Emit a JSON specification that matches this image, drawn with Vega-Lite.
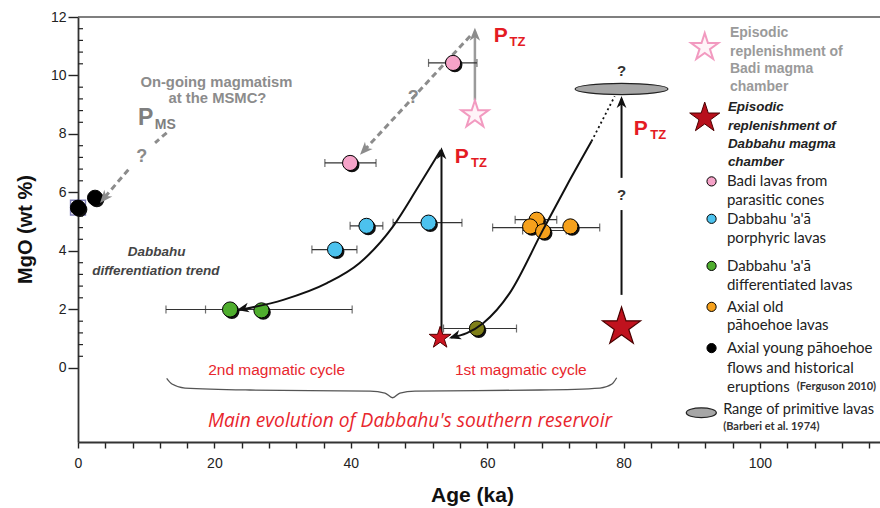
{
 "$schema": "https://vega.github.io/schema/vega-lite/v6.json",
 "width": 802, "height": 425,
 "autosize": {"type": "none"},
 "padding": {"left": 78, "top": 17, "right": 0, "bottom": 66},
 "background": "white",
 "config": {"view": {"stroke": null}, "axis": {"grid": false, "labelFont": "Liberation Sans", "titleFont": "Liberation Sans"}},
 "datasets": {
  "pts": [
   {"x": 0, "y": 5.48, "g": "black"},
   {"x": 2.5, "y": 5.82, "g": "black"},
   {"x": 39.9, "y": 7.01, "g": "pink"},
   {"x": 55.0, "y": 10.43, "g": "pink"},
   {"x": 42.3, "y": 4.86, "g": "blue"},
   {"x": 51.4, "y": 4.97, "g": "blue"},
   {"x": 37.7, "y": 4.05, "g": "blue"},
   {"x": 22.3, "y": 2.0, "g": "green"},
   {"x": 26.9, "y": 1.97, "g": "green"},
   {"x": 58.5, "y": 1.35, "g": "olive"},
   {"x": 67.25, "y": 5.07, "g": "orange"},
   {"x": 66.3, "y": 4.84, "g": "orange"},
   {"x": 72.2, "y": 4.84, "g": "orange"},
   {"x": 68.2, "y": 4.67, "g": "orange"}
  ],
  "err": [
   {"y": 7.01, "xlo": 36.2, "xhi": 43.7},
   {"y": 10.43, "xlo": 51.4, "xhi": 58.5},
   {"y": 4.86, "xlo": 39.9, "xhi": 44.7},
   {"y": 4.97, "xlo": 46.2, "xhi": 56.3},
   {"y": 4.05, "xlo": 34.3, "xhi": 40.9},
   {"y": 2.0, "xlo": 12.9, "xhi": 40.2},
   {"y": 2.0, "xlo": 18.7, "xhi": 26.9},
   {"y": 1.35, "xlo": 53.6, "xhi": 64.3},
   {"y": 4.80, "xlo": 60.8, "xhi": 76.5},
   {"y": 5.07, "xlo": 64.1, "xhi": 70.2},
   {"y": 4.70, "xlo": 65.2, "xhi": 71.6}
  ],
  "ymin": [
   {"x": 0, "y": 0.4}, {"x": 0, "y": 0.8}, {"x": 0, "y": 1.2}, {"x": 0, "y": 1.6},
   {"x": 0, "y": 2.4}, {"x": 0, "y": 2.8}, {"x": 0, "y": 3.2}, {"x": 0, "y": 3.6},
   {"x": 0, "y": 4.4}, {"x": 0, "y": 4.8}, {"x": 0, "y": 5.2}, {"x": 0, "y": 5.6},
   {"x": 0, "y": 6.4}, {"x": 0, "y": 6.8}, {"x": 0, "y": 7.2}, {"x": 0, "y": 7.6},
   {"x": 0, "y": 8.4}, {"x": 0, "y": 8.8}, {"x": 0, "y": 9.2}, {"x": 0, "y": 9.6},
   {"x": 0, "y": 10.4}, {"x": 0, "y": 10.8}, {"x": 0, "y": 11.2}, {"x": 0, "y": 11.6}
  ],
  "lines": [
   {"id": "c2", "k": "curve", "i": 1, "x": 23.6, "y": 1.98},
   {"id": "c2", "k": "curve", "i": 2, "x": 30.1, "y": 2.33},
   {"id": "c2", "k": "curve", "i": 3, "x": 36.5, "y": 2.90},
   {"id": "c2", "k": "curve", "i": 4, "x": 41.3, "y": 3.59},
   {"id": "c2", "k": "curve", "i": 5, "x": 46.2, "y": 4.84},
   {"id": "c2", "k": "curve", "i": 6, "x": 49.8, "y": 6.16},
   {"id": "c2", "k": "curve", "i": 7, "x": 53.2, "y": 7.45},
   {"id": "c1", "k": "curve", "i": 1, "x": 54.7, "y": 1.04},
   {"id": "c1", "k": "curve", "i": 2, "x": 57.0, "y": 1.19},
   {"id": "c1", "k": "curve", "i": 3, "x": 59.4, "y": 1.53},
   {"id": "c1", "k": "curve", "i": 4, "x": 63.3, "y": 2.56},
   {"id": "c1", "k": "curve", "i": 5, "x": 68.2, "y": 4.73},
   {"id": "c1", "k": "curve", "i": 6, "x": 71.7, "y": 6.25},
   {"id": "c1", "k": "curve", "i": 7, "x": 75.3, "y": 7.75},
   {"id": "c2v", "k": "straight", "i": 1, "x": 53.3, "y": 1.1},
   {"id": "c2v", "k": "straight", "i": 2, "x": 53.3, "y": 7.45},
   {"id": "v80a", "k": "straight", "i": 1, "x": 79.7, "y": 2.5},
   {"id": "v80a", "k": "straight", "i": 2, "x": 79.7, "y": 5.4},
   {"id": "v80b", "k": "straight", "i": 1, "x": 79.7, "y": 6.5},
   {"id": "v80b", "k": "straight", "i": 2, "x": 79.7, "y": 9.2},
   {"id": "c1d", "k": "dotted", "i": 1, "x": 75.3, "y": 7.75},
   {"id": "c1d", "k": "dotted", "i": 2, "x": 78.7, "y": 9.29},
   {"id": "ms1", "k": "gdash", "i": 1, "x": 13.0, "y": 8.04},
   {"id": "ms1", "k": "gdash", "i": 2, "x": 11.3, "y": 7.70},
   {"id": "ms2", "k": "gdash", "i": 1, "x": 7.38, "y": 6.78},
   {"id": "ms2", "k": "gdash", "i": 2, "x": 3.6, "y": 5.75},
   {"id": "badi", "k": "gdash", "i": 1, "x": 57.5, "y": 11.35},
   {"id": "badi", "k": "gdash", "i": 2, "x": 41.6, "y": 7.35},
   {"id": "badiv", "k": "gsolid", "i": 1, "x": 58.2, "y": 9.15},
   {"id": "badiv", "k": "gsolid", "i": 2, "x": 58.2, "y": 11.5}
  ],
  "brace": [
   {"i": 1, "x": 13.0, "y": -0.353},
   {"i": 2, "x": 13.78, "y": -0.548},
   {"i": 3, "x": 15.69, "y": -0.685},
   {"i": 4, "x": 25.22, "y": -0.753},
   {"i": 5, "x": 42.82, "y": -0.788},
   {"i": 6, "x": 45.01, "y": -0.856},
   {"i": 7, "x": 46.14, "y": -1.017},
   {"i": 8, "x": 47.21, "y": -0.856},
   {"i": 9, "x": 49.41, "y": -0.788},
   {"i": 10, "x": 67.74, "y": -0.753},
   {"i": 11, "x": 76.54, "y": -0.685},
   {"i": 12, "x": 78.30, "y": -0.548},
   {"i": 13, "x": 78.99, "y": -0.332}
  ],
  "arrows": [
   {"x": 23.3, "y": 1.98, "a": 258, "c": "black"},
   {"x": 54.4, "y": 1.02, "a": 253, "c": "black"},
   {"x": 53.3, "y": 7.55, "a": 0, "c": "black"},
   {"x": 79.7, "y": 9.3, "a": 0, "c": "black"},
   {"x": 3.23, "y": 5.64, "a": 220, "c": "gray"},
   {"x": 41.35, "y": 7.29, "a": 223, "c": "gray"},
   {"x": 58.2, "y": 11.63, "a": 0, "c": "gray"}
  ],
  "stars": [
   {"id": "small", "x": 53.1, "y": 1.03},
   {"id": "big", "x": 79.7, "y": 1.4},
   {"id": "pink", "x": 58.2, "y": 8.66},
   {"id": "legpink", "x": 91.9, "y": 10.96},
   {"id": "legred", "x": 91.9, "y": 8.55}
  ],
  "legpts": [
   {"x": 92.9, "y": 6.38, "g": "pink"},
   {"x": 92.9, "y": 5.10, "g": "blue"},
   {"x": 92.9, "y": 3.49, "g": "green"},
   {"x": 92.9, "y": 2.09, "g": "orange"},
   {"x": 92.9, "y": 0.68, "g": "black"}
  ],
  "txt": [
   {"x": 62.0, "y": 11.35, "t": "P", "s": "P"},
   {"x": 56.26, "y": 7.23, "t": "P", "s": "P"},
   {"x": 82.52, "y": 8.18, "t": "P", "s": "P"},
   {"x": 64.44, "y": 11.16, "t": "TZ", "s": "Psub"},
   {"x": 58.79, "y": 7.01, "t": "TZ", "s": "Psub"},
   {"x": 85.09, "y": 7.95, "t": "TZ", "s": "Psub"},
   {"x": 9.94, "y": 8.55, "t": "P", "s": "PMS"},
   {"x": 12.79, "y": 8.32, "t": "MS", "s": "PMSsub"},
   {"x": 9.34, "y": 7.21, "t": "?", "s": "qg"},
   {"x": 49.17, "y": 9.24, "t": "?", "s": "qg"},
   {"x": 79.72, "y": 10.15, "t": "?", "s": "qb"},
   {"x": 79.72, "y": 5.92, "t": "?", "s": "qb"},
   {"x": 20.3, "y": 9.76, "t": "On-going magmatism", "s": "ongoing"},
   {"x": 20.45, "y": 9.18, "t": "at the MSMC?", "s": "ongoing"},
   {"x": 11.54, "y": 3.95, "t": "Dabbahu", "s": "trend"},
   {"x": 11.41, "y": 3.33, "t": "differentiation trend", "s": "trend"},
   {"x": 29.13, "y": -0.07, "t": "2nd magmatic cycle", "s": "cycle"},
   {"x": 64.93, "y": -0.07, "t": "1st magmatic cycle", "s": "cycle"},
   {"x": 48.68, "y": -1.82, "t": "Main evolution of Dabbahu's southern reservoir", "s": "main"},
   {"x": 95.6, "y": 11.47, "t": "Episodic", "s": "leg1"},
   {"x": 95.6, "y": 10.82, "t": "replenishment of", "s": "leg1"},
   {"x": 95.6, "y": 10.21, "t": "Badi magma", "s": "leg1"},
   {"x": 95.6, "y": 9.62, "t": "chamber", "s": "leg1"},
   {"x": 95.3, "y": 8.94, "t": "Episodic", "s": "leg2"},
   {"x": 95.3, "y": 8.29, "t": "replenishment of", "s": "leg2"},
   {"x": 95.3, "y": 7.67, "t": "Dabbahu magma", "s": "leg2"},
   {"x": 95.3, "y": 7.05, "t": "chamber", "s": "leg2"},
   {"x": 95.16, "y": 6.40, "t": "Badi lavas from", "s": "leg3"},
   {"x": 95.16, "y": 5.75, "t": "parasitic cones", "s": "leg3"},
   {"x": 95.16, "y": 5.10, "t": "Dabbahu 'a'ā", "s": "leg3"},
   {"x": 95.16, "y": 4.45, "t": "porphyric lavas", "s": "leg3"},
   {"x": 95.16, "y": 3.49, "t": "Dabbahu 'a'ā", "s": "leg3"},
   {"x": 95.16, "y": 2.84, "t": "differentiated lavas", "s": "leg3"},
   {"x": 95.16, "y": 2.09, "t": "Axial old", "s": "leg3"},
   {"x": 95.16, "y": 1.47, "t": "pāhoehoe lavas", "s": "leg3"},
   {"x": 95.16, "y": 0.68, "t": "Axial young pāhoehoe", "s": "leg3"},
   {"x": 95.16, "y": 0.0, "t": "flows and historical", "s": "leg3"},
   {"x": 95.16, "y": -0.65, "t": "eruptions", "s": "leg3"},
   {"x": 94.6, "y": -1.44, "t": "Range of primitive lavas", "s": "leg3b"},
   {"x": 105.4, "y": -0.65, "t": "(Ferguson 2010)", "s": "legs"},
   {"x": 94.6, "y": -2.02, "t": "(Barberi et al. 1974)", "s": "legs"}
  ]
 },
 "encoding": {
  "x": {"field": "x", "type": "quantitative",
   "scale": {"domain": [0, 117.6], "nice": false, "zero": false},
   "axis": {"title": "Age (ka)", "values": [0,4,8,12,16,20,24,28,32,36,40,44,48,52,56,60,64,68,72,76,80,84,88,92,96,100,104,108,112,116],
    "labelExpr": "datum.value % 20 === 0 ? format(datum.value, 'd') : ''",
    "labelOverlap": false, "labelFlush": false,
    "ticks": true, "tickSize": 6, "tickColor": "#222", "tickWidth": 1.4, "tickOpacity": 1, "labelPadding": 8, "labelFontSize": 14, "labelColor": "#222",
    "domainColor": "#333", "domainWidth": 1.8, "titleFontSize": 21, "titleFontWeight": "bold", "titleColor": "#111",
    "titleX": 394, "titleY": 53, "titleBaseline": "middle", "titleAlign": "center"}},
  "y": {"field": "y", "type": "quantitative",
   "scale": {"domain": [-2.53, 12], "nice": false, "zero": false},
   "axis": {"title": "MgO (wt %)", "values": [0, 2, 4, 6, 8, 10, 12],
    "labelExpr": "format(datum.value, 'd')", "labelOverlap": false, "labelFlush": false,
    "ticks": true, "tickSize": 10, "tickColor": "#222", "tickWidth": 1.4, "tickOpacity": 1, "labelPadding": 2, "labelFontSize": 14, "labelColor": "#222",
    "domainColor": "#333", "domainWidth": 1.8, "titleFontSize": 20, "titleFontWeight": "bold", "titleColor": "#111",
    "titleX": -53, "titleY": 212, "titleAngle": -90, "titleBaseline": "middle", "titleAlign": "center"}}
 },
 "layer": [
  {"data": {"values": [{"x": 0, "x2": 117.6, "y": 12}]},
   "mark": {"type": "rule", "color": "#555", "strokeWidth": 1.5},
   "encoding": {"x2": {"field": "x2"}}},
  {"data": {"name": "ymin"},
   "mark": {"type": "point", "shape": "M0,0L1.25,0", "size": 64, "filled": false, "color": "#222", "strokeWidth": 1.2, "opacity": 1}},
  {"data": {"name": "brace"},
   "mark": {"type": "line", "interpolate": "monotone", "color": "#555", "strokeWidth": 1.3},
   "encoding": {"order": {"field": "i"}}},
  {"data": {"name": "lines"}, "transform": [{"filter": "datum.k === 'gdash'"}],
   "mark": {"type": "line", "color": "#8c8c8c", "strokeWidth": 3, "strokeDash": [6, 4]},
   "encoding": {"detail": {"field": "id"}, "order": {"field": "i"}}},
  {"data": {"name": "lines"}, "transform": [{"filter": "datum.k === 'gsolid'"}],
   "mark": {"type": "line", "color": "#9a9a9a", "strokeWidth": 2.5},
   "encoding": {"detail": {"field": "id"}, "order": {"field": "i"}}},
  {"data": {"name": "err"},
   "mark": {"type": "rule", "color": "#333", "strokeWidth": 1.2},
   "encoding": {"x": {"field": "xlo", "type": "quantitative"}, "x2": {"field": "xhi"}}},
  {"data": {"name": "err"}, "transform": [{"fold": ["xlo", "xhi"], "as": ["k", "xc"]}],
   "mark": {"type": "point", "shape": "M0,-1L0,1", "size": 64, "filled": false, "color": "#333", "strokeWidth": 1.2},
   "encoding": {"x": {"field": "xc", "type": "quantitative"}}},
  {"data": {"values": [{"x": 0, "y": 5.48}]},
   "mark": {"type": "point", "shape": "square", "size": 220, "filled": false, "stroke": "#4b4b9c", "strokeWidth": 1.5}},
  {"data": {"name": "pts"},
   "mark": {"type": "point", "shape": "circle", "filled": true, "size": 230, "color": "#111", "opacity": 1, "xOffset": 1.8, "yOffset": 1.8}},
  {"data": {"name": "pts"},
   "mark": {"type": "point", "shape": "circle", "filled": true, "size": 230, "opacity": 1, "stroke": "#000", "strokeWidth": 1},
   "encoding": {"fill": {"field": "g", "type": "nominal", "legend": null,
     "scale": {"domain": ["pink", "blue", "green", "olive", "orange", "black"], "range": ["#f5a3c8", "#4cc2ee", "#4fae2e", "#7f7f18", "#f6a11c", "#000000"]}}}},
  {"data": {"name": "lines"}, "transform": [{"filter": "datum.k === 'curve'"}],
   "mark": {"type": "line", "interpolate": "monotone", "color": "#111", "strokeWidth": 2},
   "encoding": {"detail": {"field": "id"}, "order": {"field": "i"}}},
  {"data": {"name": "lines"}, "transform": [{"filter": "datum.k === 'straight'"}],
   "mark": {"type": "line", "color": "#111", "strokeWidth": 2},
   "encoding": {"detail": {"field": "id"}, "order": {"field": "i"}}},
  {"data": {"name": "lines"}, "transform": [{"filter": "datum.k === 'dotted'"}],
   "mark": {"type": "line", "color": "#111", "strokeWidth": 1.8, "strokeDash": [2, 3]},
   "encoding": {"detail": {"field": "id"}, "order": {"field": "i"}}},
  {"data": {"values": [{"x": 79.7, "y": 9.54}]},
   "mark": {"type": "point", "shape": "M-1,0A1,0.12 0 1,1 1,0A1,0.12 0 1,1 -1,0Z", "size": 8649, "filled": true, "fill": "#a6a6a6", "stroke": "#222", "strokeWidth": 1.2, "opacity": 1}},
  {"data": {"name": "arrows"}, "transform": [{"filter": "datum.c === 'black'"}],
   "mark": {"type": "point", "shape": "M0,0L0.65,1.6L0,1.15L-0.65,1.6Z", "size": 225, "filled": true, "color": "#111", "opacity": 1},
   "encoding": {"angle": {"field": "a", "type": "quantitative", "scale": null}}},
  {"data": {"name": "arrows"}, "transform": [{"filter": "datum.c === 'gray'"}],
   "mark": {"type": "point", "shape": "M0,0L0.65,1.6L0,1.15L-0.65,1.6Z", "size": 260, "filled": true, "color": "#8c8c8c", "opacity": 1},
   "encoding": {"angle": {"field": "a", "type": "quantitative", "scale": null}}},
  {"data": {"name": "stars"}, "transform": [{"filter": "datum.id === 'small'"}],
   "mark": {"type": "point", "shape": "M0,-1L0.2245,-0.309L0.951,-0.309L0.363,0.118L0.588,0.809L0,0.382L-0.588,0.809L-0.363,0.118L-0.951,-0.309L-0.2245,-0.309Z", "size": 530, "filled": true, "fill": "#cc1420", "stroke": "#500000", "strokeWidth": 1, "opacity": 1}},
  {"data": {"name": "stars"}, "transform": [{"filter": "datum.id === 'big'"}],
   "mark": {"type": "point", "shape": "M0,-1L0.2245,-0.309L0.951,-0.309L0.363,0.118L0.588,0.809L0,0.382L-0.588,0.809L-0.363,0.118L-0.951,-0.309L-0.2245,-0.309Z", "size": 1600, "filled": true, "fill": "#c0121e", "stroke": "#4a0000", "strokeWidth": 1.2, "opacity": 1}},
  {"data": {"name": "stars"}, "transform": [{"filter": "datum.id === 'legred'"}],
   "mark": {"type": "point", "shape": "M0,-1L0.2245,-0.309L0.951,-0.309L0.363,0.118L0.588,0.809L0,0.382L-0.588,0.809L-0.363,0.118L-0.951,-0.309L-0.2245,-0.309Z", "size": 1000, "filled": true, "fill": "#b8101c", "stroke": "#4a0000", "strokeWidth": 1, "opacity": 1}},
  {"data": {"name": "stars"}, "transform": [{"filter": "datum.id === 'pink' || datum.id === 'legpink'"}],
   "mark": {"type": "point", "shape": "M0,-1L0.2245,-0.309L0.951,-0.309L0.363,0.118L0.588,0.809L0,0.382L-0.588,0.809L-0.363,0.118L-0.951,-0.309L-0.2245,-0.309Z", "size": 820, "filled": true, "fill": "#fff4f8", "stroke": "#f29ac0", "strokeWidth": 2, "opacity": 1}},
  {"data": {"name": "legpts"},
   "mark": {"type": "point", "shape": "circle", "filled": true, "size": 85, "opacity": 1, "stroke": "#000", "strokeWidth": 1},
   "encoding": {"fill": {"field": "g", "type": "nominal", "legend": null}}},
  {"data": {"values": [{"x": 91.4, "y": -1.53}]},
   "mark": {"type": "point", "shape": "M-1,0A1,0.33 0 1,1 1,0A1,0.33 0 1,1 -1,0Z", "size": 900, "filled": true, "fill": "#a6a6a6", "stroke": "#222", "strokeWidth": 1.3, "opacity": 1}},
  {"data": {"name": "txt"}, "transform": [{"filter": "datum.s === 'P'"}],
   "mark": {"type": "text", "font": "Liberation Sans", "fontWeight": "bold", "fontSize": 21, "color": "#e41b23", "align": "center", "baseline": "middle"},
   "encoding": {"text": {"field": "t"}}},
  {"data": {"name": "txt"}, "transform": [{"filter": "datum.s === 'Psub'"}],
   "mark": {"type": "text", "font": "Liberation Sans", "fontWeight": "bold", "fontSize": 13, "color": "#e41b23", "align": "center", "baseline": "middle"},
   "encoding": {"text": {"field": "t"}}},
  {"data": {"name": "txt"}, "transform": [{"filter": "datum.s === 'PMS'"}],
   "mark": {"type": "text", "font": "Liberation Sans", "fontWeight": "bold", "fontSize": 23, "color": "#7f7f7f", "align": "center", "baseline": "middle"},
   "encoding": {"text": {"field": "t"}}},
  {"data": {"name": "txt"}, "transform": [{"filter": "datum.s === 'PMSsub'"}],
   "mark": {"type": "text", "font": "Liberation Sans", "fontWeight": "bold", "fontSize": 14, "color": "#7f7f7f", "align": "center", "baseline": "middle"},
   "encoding": {"text": {"field": "t"}}},
  {"data": {"name": "txt"}, "transform": [{"filter": "datum.s === 'qg'"}],
   "mark": {"type": "text", "font": "Liberation Sans", "fontWeight": "bold", "fontSize": 18, "color": "#8a8a8a", "align": "center", "baseline": "middle"},
   "encoding": {"text": {"field": "t"}}},
  {"data": {"name": "txt"}, "transform": [{"filter": "datum.s === 'qb'"}],
   "mark": {"type": "text", "font": "Liberation Sans", "fontWeight": "bold", "fontSize": 15, "color": "#333", "align": "center", "baseline": "middle"},
   "encoding": {"text": {"field": "t"}}},
  {"data": {"name": "txt"}, "transform": [{"filter": "datum.s === 'ongoing'"}],
   "mark": {"type": "text", "font": "Liberation Sans", "fontWeight": "bold", "fontSize": 14.8, "color": "#8c8c8c", "align": "center", "baseline": "middle"},
   "encoding": {"text": {"field": "t"}}},
  {"data": {"name": "txt"}, "transform": [{"filter": "datum.s === 'trend'"}],
   "mark": {"type": "text", "font": "Liberation Sans", "fontWeight": "bold", "fontStyle": "italic", "fontSize": 13.5, "color": "#444", "align": "center", "baseline": "middle"},
   "encoding": {"text": {"field": "t"}}},
  {"data": {"name": "txt"}, "transform": [{"filter": "datum.s === 'cycle'"}],
   "mark": {"type": "text", "font": "Liberation Sans", "fontSize": 15.5, "color": "#e8262d", "align": "center", "baseline": "middle"},
   "encoding": {"text": {"field": "t"}}},
  {"data": {"name": "txt"}, "transform": [{"filter": "datum.s === 'main'"}],
   "mark": {"type": "text", "font": "Open Sans", "fontStyle": "italic", "fontSize": 19.2, "color": "#e8262d", "align": "center", "baseline": "middle"},
   "encoding": {"text": {"field": "t"}}},
  {"data": {"name": "txt"}, "transform": [{"filter": "datum.s === 'leg1'"}],
   "mark": {"type": "text", "font": "Liberation Sans", "fontWeight": "bold", "fontSize": 14, "color": "#9a9a9a", "align": "left", "baseline": "middle"},
   "encoding": {"text": {"field": "t"}}},
  {"data": {"name": "txt"}, "transform": [{"filter": "datum.s === 'leg2'"}],
   "mark": {"type": "text", "font": "Liberation Sans", "fontWeight": "bold", "fontStyle": "italic", "fontSize": 13.4, "color": "#222", "align": "left", "baseline": "middle"},
   "encoding": {"text": {"field": "t"}}},
  {"data": {"name": "txt"}, "transform": [{"filter": "datum.s === 'leg3'"}],
   "mark": {"type": "text", "font": "Lato", "fontSize": 15, "color": "#222", "align": "left", "baseline": "middle"},
   "encoding": {"text": {"field": "t"}}},
  {"data": {"name": "txt"}, "transform": [{"filter": "datum.s === 'leg3b'"}],
   "mark": {"type": "text", "font": "Lato", "fontSize": 14.5, "color": "#222", "align": "left", "baseline": "middle"},
   "encoding": {"text": {"field": "t"}}},
  {"data": {"name": "txt"}, "transform": [{"filter": "datum.s === 'legs'"}],
   "mark": {"type": "text", "font": "Lato", "fontWeight": "bold", "fontSize": 11, "color": "#333", "align": "left", "baseline": "middle"},
   "encoding": {"text": {"field": "t"}}}
 ]
}
